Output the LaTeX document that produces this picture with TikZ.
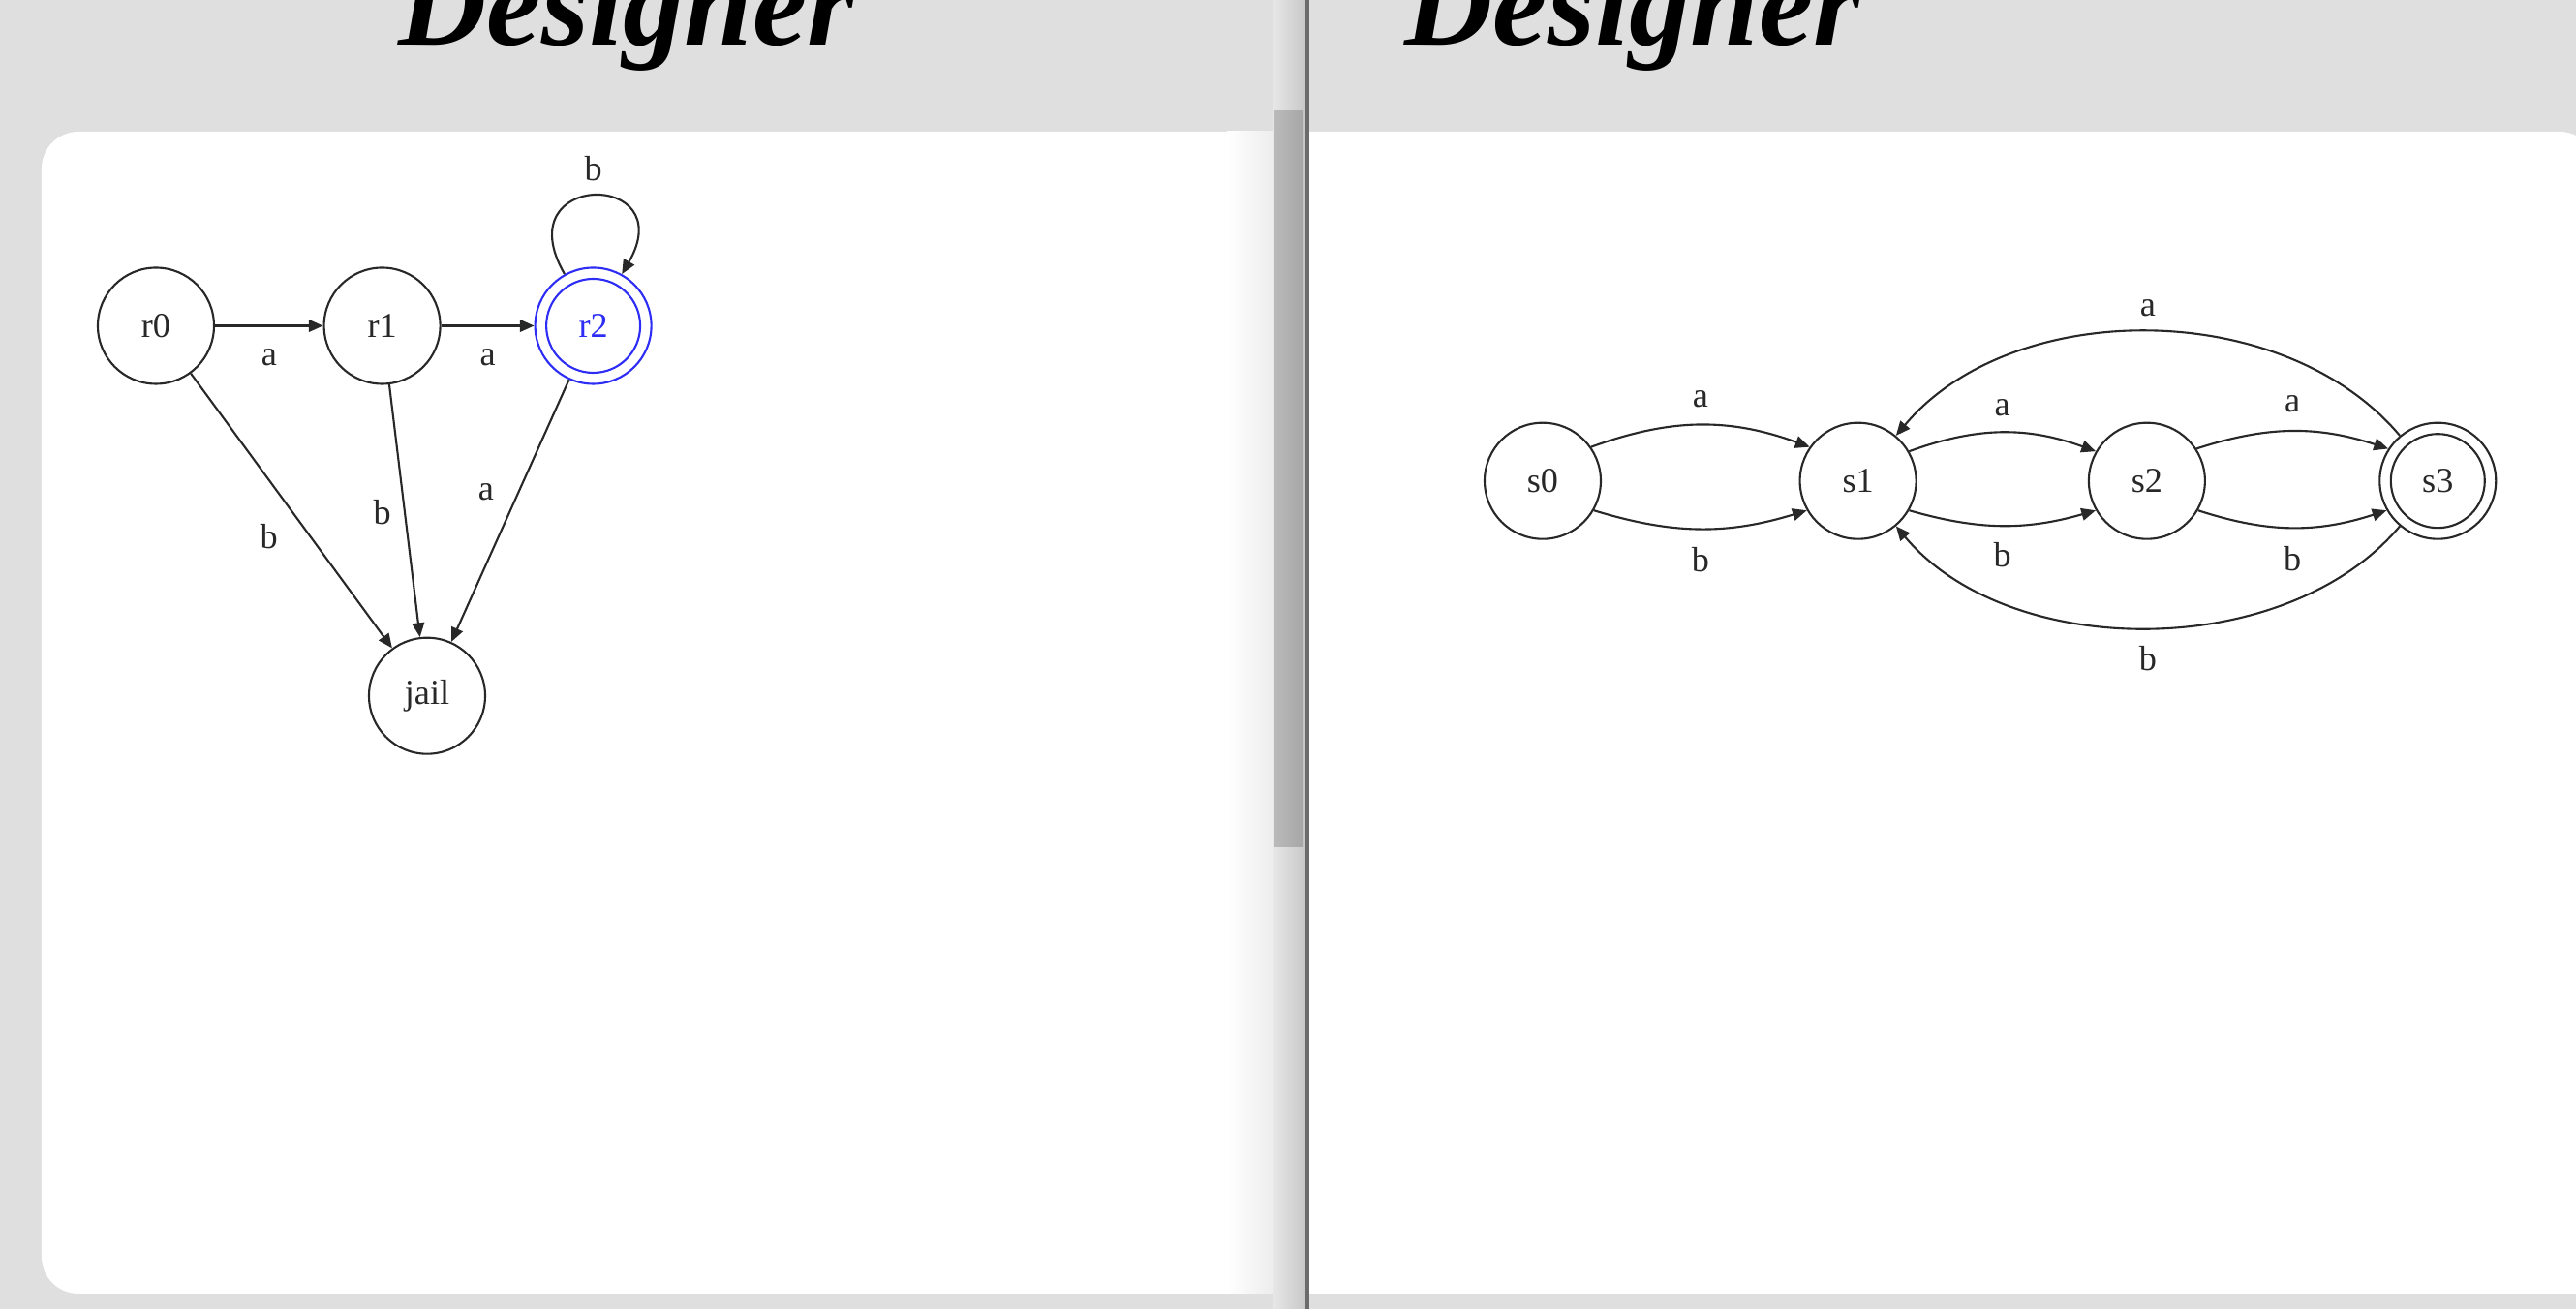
\documentclass[tikz,border=0pt]{standalone}
\usepackage{fontspec}
\setmainfont{Liberation Serif}
\usetikzlibrary{positioning, arrows.meta, calc}

\definecolor{panelgrey}{RGB}{223,223,223}
\definecolor{acceptblue}{RGB}{45,45,245}
\definecolor{inkgrey}{RGB}{40,40,40}

\begin{document}
\begin{tikzpicture}[font=\fontsize{10.3}{12}\selectfont,
  state/.style={draw=inkgrey, circle, line width=0.6pt, minimum size=1.2cm, inner sep=0pt, text=inkgrey},
  ring/.style={state, minimum size=0.97cm},
  lbl/.style={inner sep=0pt, text=inkgrey},
  trans/.style={draw=inkgrey, line width=0.6pt, -{Triangle[length=4.2pt, width=3.6pt]}},
  title/.style={font=\fontsize{36}{40}\selectfont\bfseries\itshape, anchor=base}]

% Window
\useasboundingbox (0,0) rectangle (26.6,-13.52);
\fill[panelgrey] (0,0) rectangle (26.6,-13.52);
\fill[white, rounded corners=0.38cm] (0.43,-1.36) rectangle (13.6,-13.36);
\shade[left color=white, right color=black!7] (12.67,-1.36) rectangle (13.14,-13.36);
\fill[white] (13.52,-13.36) -- (13.52,-1.36) -- (26.43,-1.36) arc[start angle=90, end angle=0, radius=0.38] -- (26.81,-13.36) -- cycle;

% Scrollbar
\shade[left color=black!9, right color=black!22] (13.14,0) rectangle (13.48,-13.52);
\shade[left color=black!27, right color=black!35] (13.16,-1.15) rectangle (13.46,-8.75);
\fill[black!58] (13.48,0) rectangle (13.52,-13.52);

% Titles
\node[title] (ltitle) at (6.47,-0.47) {Designer};
\node[title] (rtitle) at (16.86,-0.47) {Designer};

% Left machine
\node[state] (r0) at (1.61,-3.365) {r0};
\node[state] (r1) at (3.946,-3.365) {r1};
\node[state, draw=acceptblue, text=acceptblue] (r2) at (6.126,-3.365) {r2};
\node[ring, draw=acceptblue] at (r2.center) {};
\node[state] (jail) at (4.41,-7.187) {jail};

\draw[trans] (r0) -- node[lbl, yshift=-0.325cm] {a} (r1);
\draw[trans] (r1) -- node[lbl, yshift=-0.325cm] {a} (r2);
\draw[trans] (r0) -- node[lbl, xshift=-0.234cm, yshift=-0.27cm] {b} (jail);
\draw[trans] (r1) -- node[lbl, xshift=-0.232cm, yshift=-0.014cm] {b} (jail);
\draw[trans] (r2) -- node[lbl, xshift=-0.248cm, yshift=0.196cm] {a} (jail);
\draw[trans] (r2.119) to[out=120, in=60, distance=1.24cm] node[lbl, yshift=0.28cm] {b} (r2.61);

% Right machine
\node[state] (s0) at (15.93,-4.967) {s0};
\node[state] (s1) at (19.186,-4.967) {s1};
\node[state] (s2) at (22.169,-4.967) {s2};
\node[state] (s3) at (25.173,-4.967) {s3};
\node[ring] at (s3.center) {};

\draw[trans] (s0.35) to[out=20, in=160] node[lbl, yshift=0.27cm] {a} (s1.145);
\draw[trans] (s0.-30) to[out=-17, in=-163] node[lbl, yshift=-0.32cm] {b} (s1.-150);
\draw[trans] (s1.30) to[out=20, in=160] node[lbl, yshift=0.26cm] {a} (s2.150);
\draw[trans] (s1.-30) to[out=-16, in=-164] node[lbl, yshift=-0.3cm] {b} (s2.-150);
\draw[trans] (s2.33) to[out=18, in=162] node[lbl, yshift=0.28cm] {a} (s3.147);
\draw[trans] (s2.-30) to[out=-18, in=-162] node[lbl, yshift=-0.32cm] {b} (s3.-150);
\draw[trans] (s3.130) to[out=130, in=50, looseness=0.92] node[lbl, yshift=0.25cm] {a} (s1.50);
\draw[trans] (s3.-130) to[out=-130, in=-50, looseness=0.9] node[lbl, yshift=-0.32cm] {b} (s1.-50);

\end{tikzpicture}
\end{document}
